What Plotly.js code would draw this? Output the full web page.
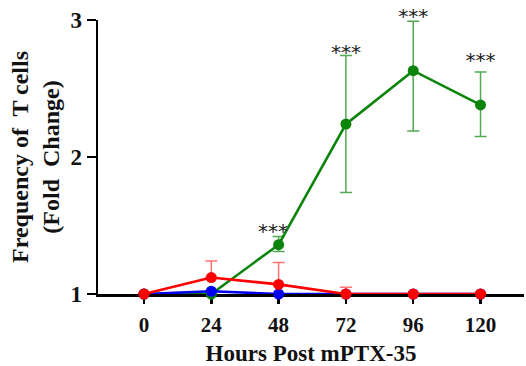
<!DOCTYPE html>
<html><head><meta charset="utf-8">
<script src="https://cdn.plot.ly/plotly-3.0.1.min.js"></script>
<style>body{margin:0;background:#fff}#c{width:526px;height:366px}</style>
</head><body><div id="c"></div>
<script>
const hours = [0, 24, 48, 72, 96, 120];
const tickLabels = ['0', '24', '48', '72', '96', '120'];
const greenY = [1.0, 1.0, 1.36, 2.24, 2.63, 2.38];
const greenErrUp = [0, 0, 0.06, 0.50, 0.36, 0.24];
const greenErrDown = [0, 0, 0.05, 0.50, 0.44, 0.23];
const blueY = [1.0, 1.02, 1.0, 1.0, 1.0, 1.0];
const redY = [1.0, 1.12, 1.07, 1.0, 1.0, 1.0];
const redErrUp = [0, 0.12, 0.16, 0.05, 0, 0];
const sigHours = [46, 72, 96, 120];
const sigY = [1.37, 2.68, 2.94, 2.62];
const sigText = ['***', '***', '***', '***'];

const fam = 'Liberation Serif, Times New Roman, serif';
const traces = [
  {x: hours, y: greenY, mode: 'lines+markers', cliponaxis: false,
   line: {color: '#0a840a', width: 2.6}, marker: {color: '#0a840a', size: 11},
   error_y: {type: 'data', symmetric: false, array: greenErrUp, arrayminus: greenErrDown,
     color: 'rgba(10,132,10,0.7)', thickness: 1.5, width: 6}},
  {x: hours, y: blueY, mode: 'lines+markers', cliponaxis: false,
   line: {color: '#0000ee', width: 2.6}, marker: {color: '#0000ee', size: 11}},
  {x: hours, y: redY, mode: 'lines+markers', cliponaxis: false,
   line: {color: '#ff0000', width: 2.6}, marker: {color: '#ff0000', size: 11},
   error_y: {type: 'data', symmetric: false, array: redErrUp, arrayminus: redErrUp.map(() => 0),
     color: 'rgba(255,0,0,0.55)', thickness: 1.5, width: 6}},
  {x: sigHours, y: sigY, mode: 'text', text: sigText, cliponaxis: false,
   textposition: 'top center', hoverinfo: 'skip',
   textfont: {family: 'DejaVu Sans, sans-serif', size: 20, color: '#222'}}
];
const layout = {
  width: 526, height: 366, showlegend: false,
  paper_bgcolor: '#fff', plot_bgcolor: '#fff',
  margin: {l: 98, r: 2, t: 20, b: 72},
  font: {family: fam, color: '#111'},
  xaxis: {range: [-16.4, 135.5], tickvals: hours, ticktext: tickLabels,
    showgrid: false, zeroline: false, showline: true, linecolor: '#000', linewidth: 2.5,
    layer: 'below traces',
    ticks: 'outside', ticklen: 7, tickwidth: 2.5, tickcolor: '#000',
    ticklabelstandoff: 3,
    tickfont: {family: fam, size: 21, color: '#111', weight: 'bold'},
    title: {text: '<b>Hours Post mPTX-35</b>', standoff: 9,
      font: {family: fam, size: 23, color: '#111'}}},
  yaxis: {range: [1, 3], tickvals: [1, 2, 3], ticktext: ['1', '2', '3'],
    showgrid: false, zeroline: false, showline: true, linecolor: '#000', linewidth: 2.5,
    layer: 'below traces',
    ticks: 'outside', ticklen: 9, tickwidth: 2.5, tickcolor: '#000',
    tickfont: {family: fam, size: 23, color: '#111', weight: 'bold'},
    title: {text: '<b>Frequency of  T cells<br>(Fold  Change)</b>', standoff: 4,
      font: {family: fam, size: 24, color: '#111'}}}
};
Plotly.newPlot('c', traces, layout, {displayModeBar: false, staticPlot: true});
</script></body></html>
